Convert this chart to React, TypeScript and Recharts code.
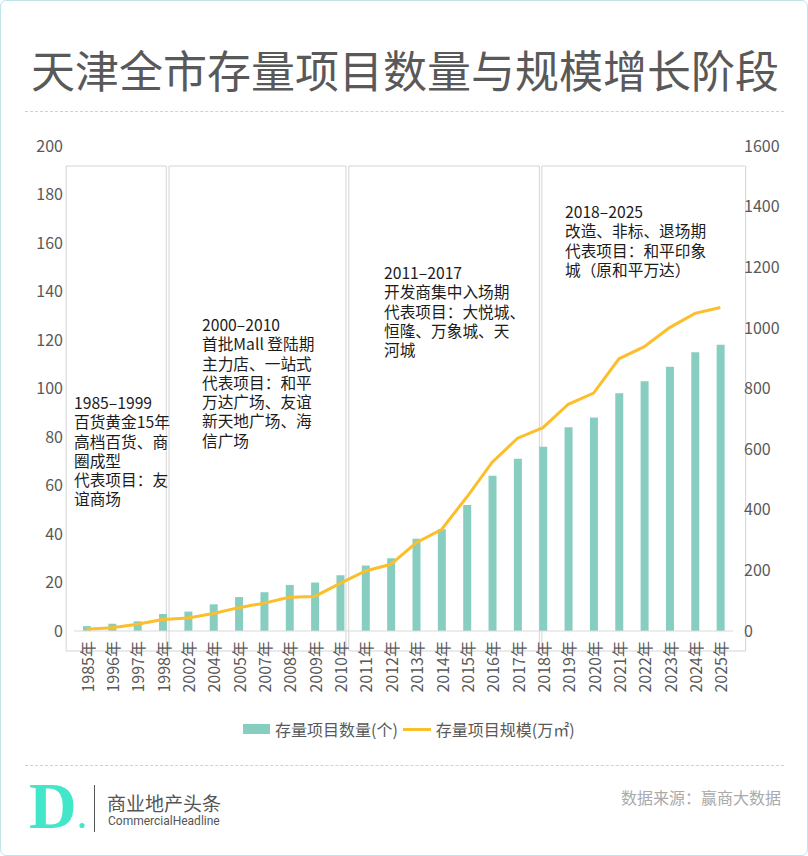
import {
  Bar,
  ComposedChart,
  Line,
  ReferenceArea,
  XAxis,
  YAxis,
} from "recharts";

const years = [
  "1985年", "1996年", "1997年", "1998年", "2002年", "2004年", "2005年",
  "2007年", "2008年", "2009年", "2010年", "2011年", "2012年", "2013年",
  "2014年", "2015年", "2016年", "2017年", "2018年", "2019年", "2020年",
  "2021年", "2022年", "2023年", "2024年", "2025年",
];
// 存量项目数量(个)
const projectCount = [
  2, 3, 4, 7, 8, 11, 14, 16, 19, 20, 23, 27, 30, 38, 42, 52, 64, 71, 76, 84,
  88, 98, 103, 109, 115, 118,
];
// 存量项目规模(万㎡)
const projectArea = [
  6, 11, 22, 38, 43, 58, 77, 92, 111, 114, 157, 198, 220, 291, 335, 442, 557,
  636, 671, 748, 785, 898, 938, 1001, 1048, 1067,
];
const leftTicks = [0, 20, 40, 60, 80, 100, 120, 140, 160, 180, 200];
const rightTicks = [0, 200, 400, 600, 800, 1000, 1200, 1400, 1600];

// phase frames, in category-index units along the x axis
const phaseStart = [-0.31, 3.75, 10.84, 18.46];
const phaseEnd = [3.64, 10.73, 18.36, 26.5];
const phaseNotes = [
  ["1985–1999", "百货黄金15年", "高档百货、商", "圈成型", "代表项目：友", "谊商场"],
  ["2000–2010", "首批Mall 登陆期", "主力店、一站式", "代表项目：和平", "万达广场、友谊", "新天地广场、海", "信广场"],
  ["2011–2017", "开发商集中入场期", "代表项目：大悦城、", "恒隆、万象城、天", "河城"],
  ["2018–2025", "改造、非标、退场期", "代表项目：和平印象", "城（原和平万达）"],
];
const noteAt = [
  { left: 73, top: 392 },
  { left: 201, top: 314 },
  { left: 383, top: 262 },
  { left: 564, top: 201 },
];

const table = years.map((year, i) => ({
  year,
  pos: i + 0.5,
  count: projectCount[i],
  area: projectArea[i],
}));

const FONT = '"Noto Sans CJK SC", "Noto Sans", sans-serif';
const GREY = "#595959";
const BAR = "#88cec0";
const LINE = "#fcbf2b";

function YearTick({ x, y, payload }: any) {
  return (
    <text
      x={x}
      y={y}
      transform={`rotate(-90, ${x}, ${y})`}
      textAnchor="end"
      dominantBaseline="central"
      fill={GREY}
      fontSize={16}
      fontFamily={FONT}
    >
      {payload.value}
    </text>
  );
}

function App() {
  return (
    <div
      style={{
        position: "relative",
        width: 808,
        height: 856,
        boxSizing: "border-box",
        border: "1px solid #bfe5e9",
        borderRadius: 6,
        background: "#fff",
        fontFamily: FONT,
        overflow: "hidden",
      }}
    >
      <style>{"body{margin:0}"}</style>
      <div
        style={{
          position: "absolute",
          top: 46,
          left: 0,
          width: 808,
          textAlign: "center",
          fontSize: 44,
          lineHeight: "44px",
          color: GREY,
        }}
      >
        天津全市存量项目数量与规模增长阶段
      </div>
      <div
        style={{
          position: "absolute",
          top: 110,
          left: 24,
          width: 759,
          borderTop: "1px dashed #a9e3dc",
        }}
      />

      <div style={{ position: "absolute", top: 0, left: 0 }}>
        <ComposedChart
          width={808}
          height={700}
          data={table}
          margin={{ top: 145, right: 16, bottom: 10, left: 13 }}
        >
          <XAxis
            xAxisId="cat"
            dataKey="year"
            interval={0}
            height={60}
            tickLine={false}
            tickSize={6}
            tickMargin={4}
            axisLine={{ stroke: "#d9d9d9" }}
            tick={<YearTick />}
          />
          <XAxis
            xAxisId="phase"
            dataKey="pos"
            type="number"
            domain={[0, 26]}
            allowDataOverflow
            hide
          />
          <YAxis
            yAxisId="left"
            domain={[0, 200]}
            ticks={leftTicks}
            width={60}
            axisLine={false}
            tickLine={false}
            tickSize={6}
            tickMargin={5}
            tick={{ fill: GREY, fontSize: 16, fontFamily: FONT }}
          />
          <YAxis
            yAxisId="right"
            orientation="right"
            domain={[0, 1600]}
            ticks={rightTicks}
            width={60}
            axisLine={false}
            tickLine={false}
            tickSize={6}
            tickMargin={5}
            tick={{ fill: GREY, fontSize: 16, fontFamily: FONT, textAnchor: "start" }}
          />
          {phaseStart.map((start, i) => (
            <ReferenceArea
              key={i}
              xAxisId="phase"
              yAxisId="left"
              x1={start}
              x2={phaseEnd[i]}
              y1={-8.25}
              y2={191.75}
              ifOverflow="visible"
              fill="none"
              fillOpacity={0}
              stroke="#d4d4d4"
              strokeWidth={1}
            />
          ))}
          <Bar
            xAxisId="cat"
            yAxisId="left"
            dataKey="count"
            name="存量项目数量(个)"
            fill={BAR}
            barSize={8}
            isAnimationActive={false}
          />
          <Line
            xAxisId="cat"
            yAxisId="right"
            dataKey="area"
            name="存量项目规模(万㎡)"
            type="linear"
            stroke={LINE}
            strokeWidth={3}
            dot={false}
            activeDot={false}
            isAnimationActive={false}
          />
        </ComposedChart>
      </div>

      {phaseNotes.map((lines, i) => (
        <div
          key={i}
          style={{
            position: "absolute",
            left: noteAt[i].left,
            top: noteAt[i].top,
            fontSize: 15.7,
            lineHeight: "19.3px",
            color: "#1c1c1c",
            whiteSpace: "nowrap",
          }}
        >
          {lines.map((line) => (
            <div key={line}>{line}</div>
          ))}
        </div>
      ))}

      <div
        style={{
          position: "absolute",
          top: 718,
          left: 242,
          height: 20,
          display: "flex",
          alignItems: "center",
          fontSize: 16,
          color: GREY,
          whiteSpace: "nowrap",
        }}
      >
        <span style={{ width: 27, height: 10, background: BAR, marginRight: 5 }} />
        <span>存量项目数量(个)</span>
        <span
          style={{ width: 28, height: 3, background: LINE, marginLeft: 5, marginRight: 5 }}
        />
        <span>存量项目规模(万㎡)</span>
      </div>

      <div
        style={{
          position: "absolute",
          top: 764,
          left: 24,
          width: 759,
          borderTop: "1px dashed #a9e3dc",
        }}
      />
      <svg
        width={92}
        height={80}
        style={{ position: "absolute", left: 0, top: 766 }}
      >
        <text
          x={28}
          y={61}
          fontFamily='"Liberation Serif", serif'
          fontWeight="bold"
          fontSize={66}
          fill="#42e6c9"
        >
          D
        </text>
        <circle cx={81} cy={58.5} r={2.6} fill="#42e6c9" />
      </svg>
      <div
        style={{
          position: "absolute",
          left: 93,
          top: 784,
          width: 1,
          height: 47,
          background: "#555",
        }}
      />
      <div
        style={{
          position: "absolute",
          left: 106,
          top: 792,
          fontSize: 19,
          lineHeight: "19px",
          color: "#555",
        }}
      >
        商业地产头条
      </div>
      <div
        style={{
          position: "absolute",
          left: 107,
          top: 813,
          fontSize: 12,
          lineHeight: "14px",
          fontFamily: "Roboto, sans-serif",
          color: "#555",
        }}
      >
        CommercialHeadline
      </div>
      <div
        style={{
          position: "absolute",
          right: 26,
          top: 788,
          fontSize: 16,
          lineHeight: "16px",
          color: "#aaaaaa",
        }}
      >
        数据来源：赢商大数据
      </div>
    </div>
  );
}

export default App;
